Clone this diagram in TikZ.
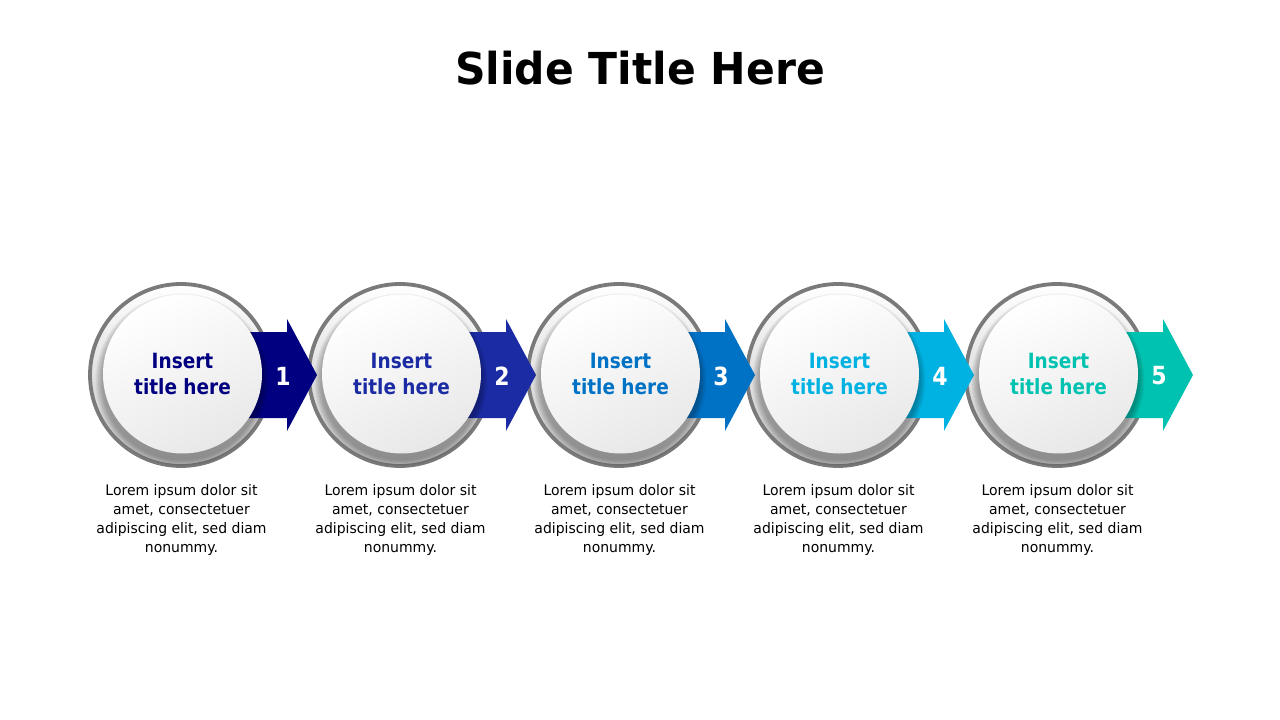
\documentclass[tikz,border=0pt]{standalone}
\usepackage{fontspec}
\setmainfont{DejaVu Sans}
\newfontfamily\titlefont[FakeStretch=0.965]{DejaVu Sans}
\newfontfamily\bodyfont[FakeStretch=0.88]{DejaVu Sans}
\newfontfamily\loremfont[FakeStretch=0.965]{DejaVu Sans}
\definecolor{cA}{HTML}{000080}
\definecolor{cB}{HTML}{1B2BA3}
\definecolor{cC}{HTML}{0072C6}
\definecolor{cD}{HTML}{00B2E2}
\definecolor{cE}{HTML}{00C2B0}
\definecolor{ringgray}{HTML}{7A7A7A}
\tikzset{
  ringstyle/.style={line width=3.8pt, draw=ringgray},
  innerstyle/.style={circle, minimum size=159pt, inner sep=0pt, align=center,
     font=\bodyfont\bfseries\fontsize{21}{26}\selectfont},
  numstyle/.style={text=white, font=\bodyfont\bfseries\fontsize{25}{28}\selectfont},
  bodystyle/.style={align=center, text=black, font=\loremfont\fontsize{14.5}{19.3}\selectfont},
}
\begin{document}
\begin{tikzpicture}[x=1pt,y=-1pt]
\useasboundingbox (0,0) rectangle (1280,720);
\node[font=\titlefont\bfseries\fontsize{44}{50}\selectfont] (title) at (640,68) {Slide Title Here};
% rings
\foreach \i in {0,...,4}{
  \pgfmathsetmacro{\cx}{181+219*\i}
  \shade[top color=white, bottom color=black!24] (\cx,375) circle (91);
  \draw[ringstyle] (\cx,375) circle (91);
}
% arrows
\foreach \i/\col in {0/cA,1/cB,2/cC,3/cD,4/cE}{
  \pgfmathsetmacro{\cx}{181+219*\i}
  \fill[\col] (\cx+40,332) -- (\cx+106,332) -- (\cx+106,319) -- (\cx+136,375)
     -- (\cx+106,431) -- (\cx+106,418) -- (\cx+40,418) -- cycle;
}
% inner circles and texts
\foreach \i/\col/\n in {0/cA/1,1/cB/2,2/cC/3,3/cD/4,4/cE/5}{
  \pgfmathsetmacro{\cx}{181+219*\i}
  \foreach \k in {7,6,...,1}{
    \fill[black, opacity=0.045] (\cx+1,380) circle (79.5+\k);
  }
  \shade[top color=white, bottom color=black!9, shading angle=25] (\cx+1.5,374) circle (79.5);
  \node[innerstyle, text=\col] (c\n) at (\cx+1.5,374) {Insert\\title here};
  \node[numstyle] (n\n) at (\cx+102,376) {\n};
  \node[bodystyle] (b\n) at (\cx+0.5,520) {Lorem ipsum dolor sit\\amet, consectetuer\\adipiscing elit, sed diam\\nonummy.};
}
\end{tikzpicture}
\end{document}
